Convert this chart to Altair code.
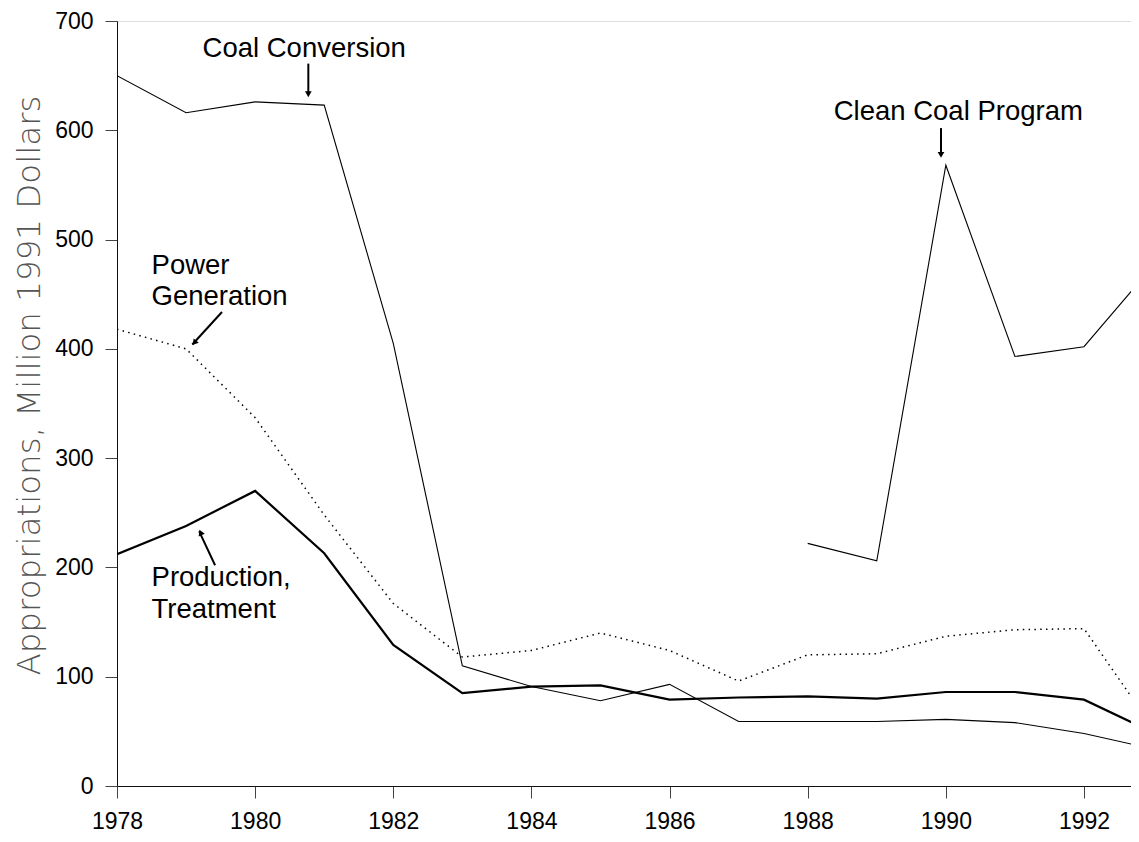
import altair as alt
import pandas as pd

# ---- data ----
years = list(range(1978, 1994))
coal_conversion = [650, 616, 626, 623, 405, 110, 91, 78, 93, 59, 59, 59, 61, 58, 48, 34]
production_treatment = [212, 238, 270, 213, 129, 85, 91, 92, 79, 81, 82, 80, 86, 86, 79, 49]
power_generation = [418, 400, 337, 248, 167, 118, 124, 140, 124, 96, 120, 121, 137, 143, 144, 53]
clean_coal_years = [1988, 1989, 1990, 1991, 1992, 1993]
clean_coal = [222, 206, 568, 393, 402, 476]

x_ticks = [1978, 1980, 1982, 1984, 1986, 1988, 1990, 1992]
y_ticks = [0, 100, 200, 300, 400, 500, 600, 700]

# annotation texts (position in data units)
label_center_text = ["Coal Conversion", "Clean Coal Program"]
label_center_year = [1980.71, 1990.18]
label_center_value = [674, 616.5]

label_left_text = ["Power", "Generation", "Production,", "Treatment"]
label_left_year = [1978.50, 1978.50, 1978.50, 1978.50]
label_left_value = [476, 447, 190.5, 161]

arrow_year = [1980.77, 1989.93, 1979.52, 1979.42]
arrow_value = [661, 602, 433.7, 202]
arrow_year2 = [1980.77, 1989.93, 1979.09, 1979.19]
arrow_value2 = [633, 577, 404, 233]
head_year = [1980.77, 1989.93, 1979.12, 1979.21]
head_value = [633, 577.5, 405.5, 232]
head_angle = [180, 180, 221, 336]

# ---- tables ----
def series(name, xs, vs):
    return pd.DataFrame({"series": name, "year": xs, "value": vs})

lines = pd.concat([
    series("Coal Conversion", years, coal_conversion),
    series("Production, Treatment", years, production_treatment),
    series("Power Generation", years, power_generation),
    series("Clean Coal Program", clean_coal_years, clean_coal),
])

center_df = pd.DataFrame({"year": label_center_year, "value": label_center_value, "text": label_center_text})
left_df = pd.DataFrame({"year": label_left_year, "value": label_left_value, "text": label_left_text})
arrow_df = pd.DataFrame({"year": arrow_year, "value": arrow_value, "year2": arrow_year2, "value2": arrow_value2})
head_df = pd.DataFrame({"year": head_year, "value": head_value, "angle": head_angle})

FONT = "Liberation Sans"
PLOT_W = 1014
PLOT_H = 765
PX_PER_YEAR = 69.07
X_MAX = 1978 + PLOT_W / PX_PER_YEAR

x_enc = alt.X(
    "year:Q",
    scale=alt.Scale(domain=[1978, X_MAX], nice=False, zero=False),
    axis=alt.Axis(
        values=x_ticks, format="d", title=None, grid=False,
        tickSize=12, tickColor="#444", tickWidth=1,
        domainColor="#111", domainWidth=1,
        labelFont=FONT, labelFontSize=23, labelColor="black", labelPadding=12,
        labelFlush=False,
    ),
)
y_enc = alt.Y(
    "value:Q",
    scale=alt.Scale(domain=[0, 700], nice=False, zero=True),
    axis=alt.Axis(
        values=y_ticks, grid=False,
        tickSize=12, tickColor="#444", tickWidth=1,
        domainColor="#111", domainWidth=1,
        labelFont=FONT, labelFontSize=23, labelColor="black", labelPadding=12,
        title="Appropriations, Million 1991 Dollars",
        titleFont="DejaVu Sans", titleFontWeight=200, titleFontSize=32.5, titleColor="#555",
        titleX=-88, titleY=364, titleAngle=270, titleAlign="center", titleBaseline="middle",
    ),
)

def line_layer(name, **style):
    return alt.Chart(lines).transform_filter(
        alt.datum.series == name
    ).mark_line(clip=True, color="black", **style).encode(x=x_enc, y=y_enc)

coal = line_layer("Coal Conversion", strokeWidth=1.1)
clean = line_layer("Clean Coal Program", strokeWidth=1.1)
prod = line_layer("Production, Treatment", strokeWidth=2.2)
power = line_layer("Power Generation", strokeWidth=1.5, strokeDash=[1.5, 4.3])

center_text = alt.Chart(center_df).mark_text(
    font=FONT, fontSize=27.5, align="center", baseline="middle", color="black"
).encode(x=x_enc, y=y_enc, text="text:N")

left_text = alt.Chart(left_df).mark_text(
    font=FONT, fontSize=27.5, align="left", baseline="middle", color="black"
).encode(x=x_enc, y=y_enc, text="text:N")

arrows = alt.Chart(arrow_df).mark_rule(color="black", strokeWidth=2).encode(
    x=x_enc, y=y_enc, x2="year2:Q", y2="value2:Q"
)

heads = alt.Chart(head_df).mark_point(
    shape="triangle-up", filled=True, size=45, color="black", opacity=1
).encode(x=x_enc, y=y_enc, angle=alt.Angle("angle:Q", scale=None))

chart = alt.layer(power, coal, clean, prod, arrows, heads, center_text, left_text).properties(
    width=PLOT_W, height=PLOT_H,
    autosize=alt.AutoSizeParams(type="none"),
    padding={"left": 109, "top": 13, "right": 0, "bottom": 48},
).configure_view(stroke=None).configure(background="white")

chart.save("out.html", embed_options={"renderer": "svg", "actions": False})
